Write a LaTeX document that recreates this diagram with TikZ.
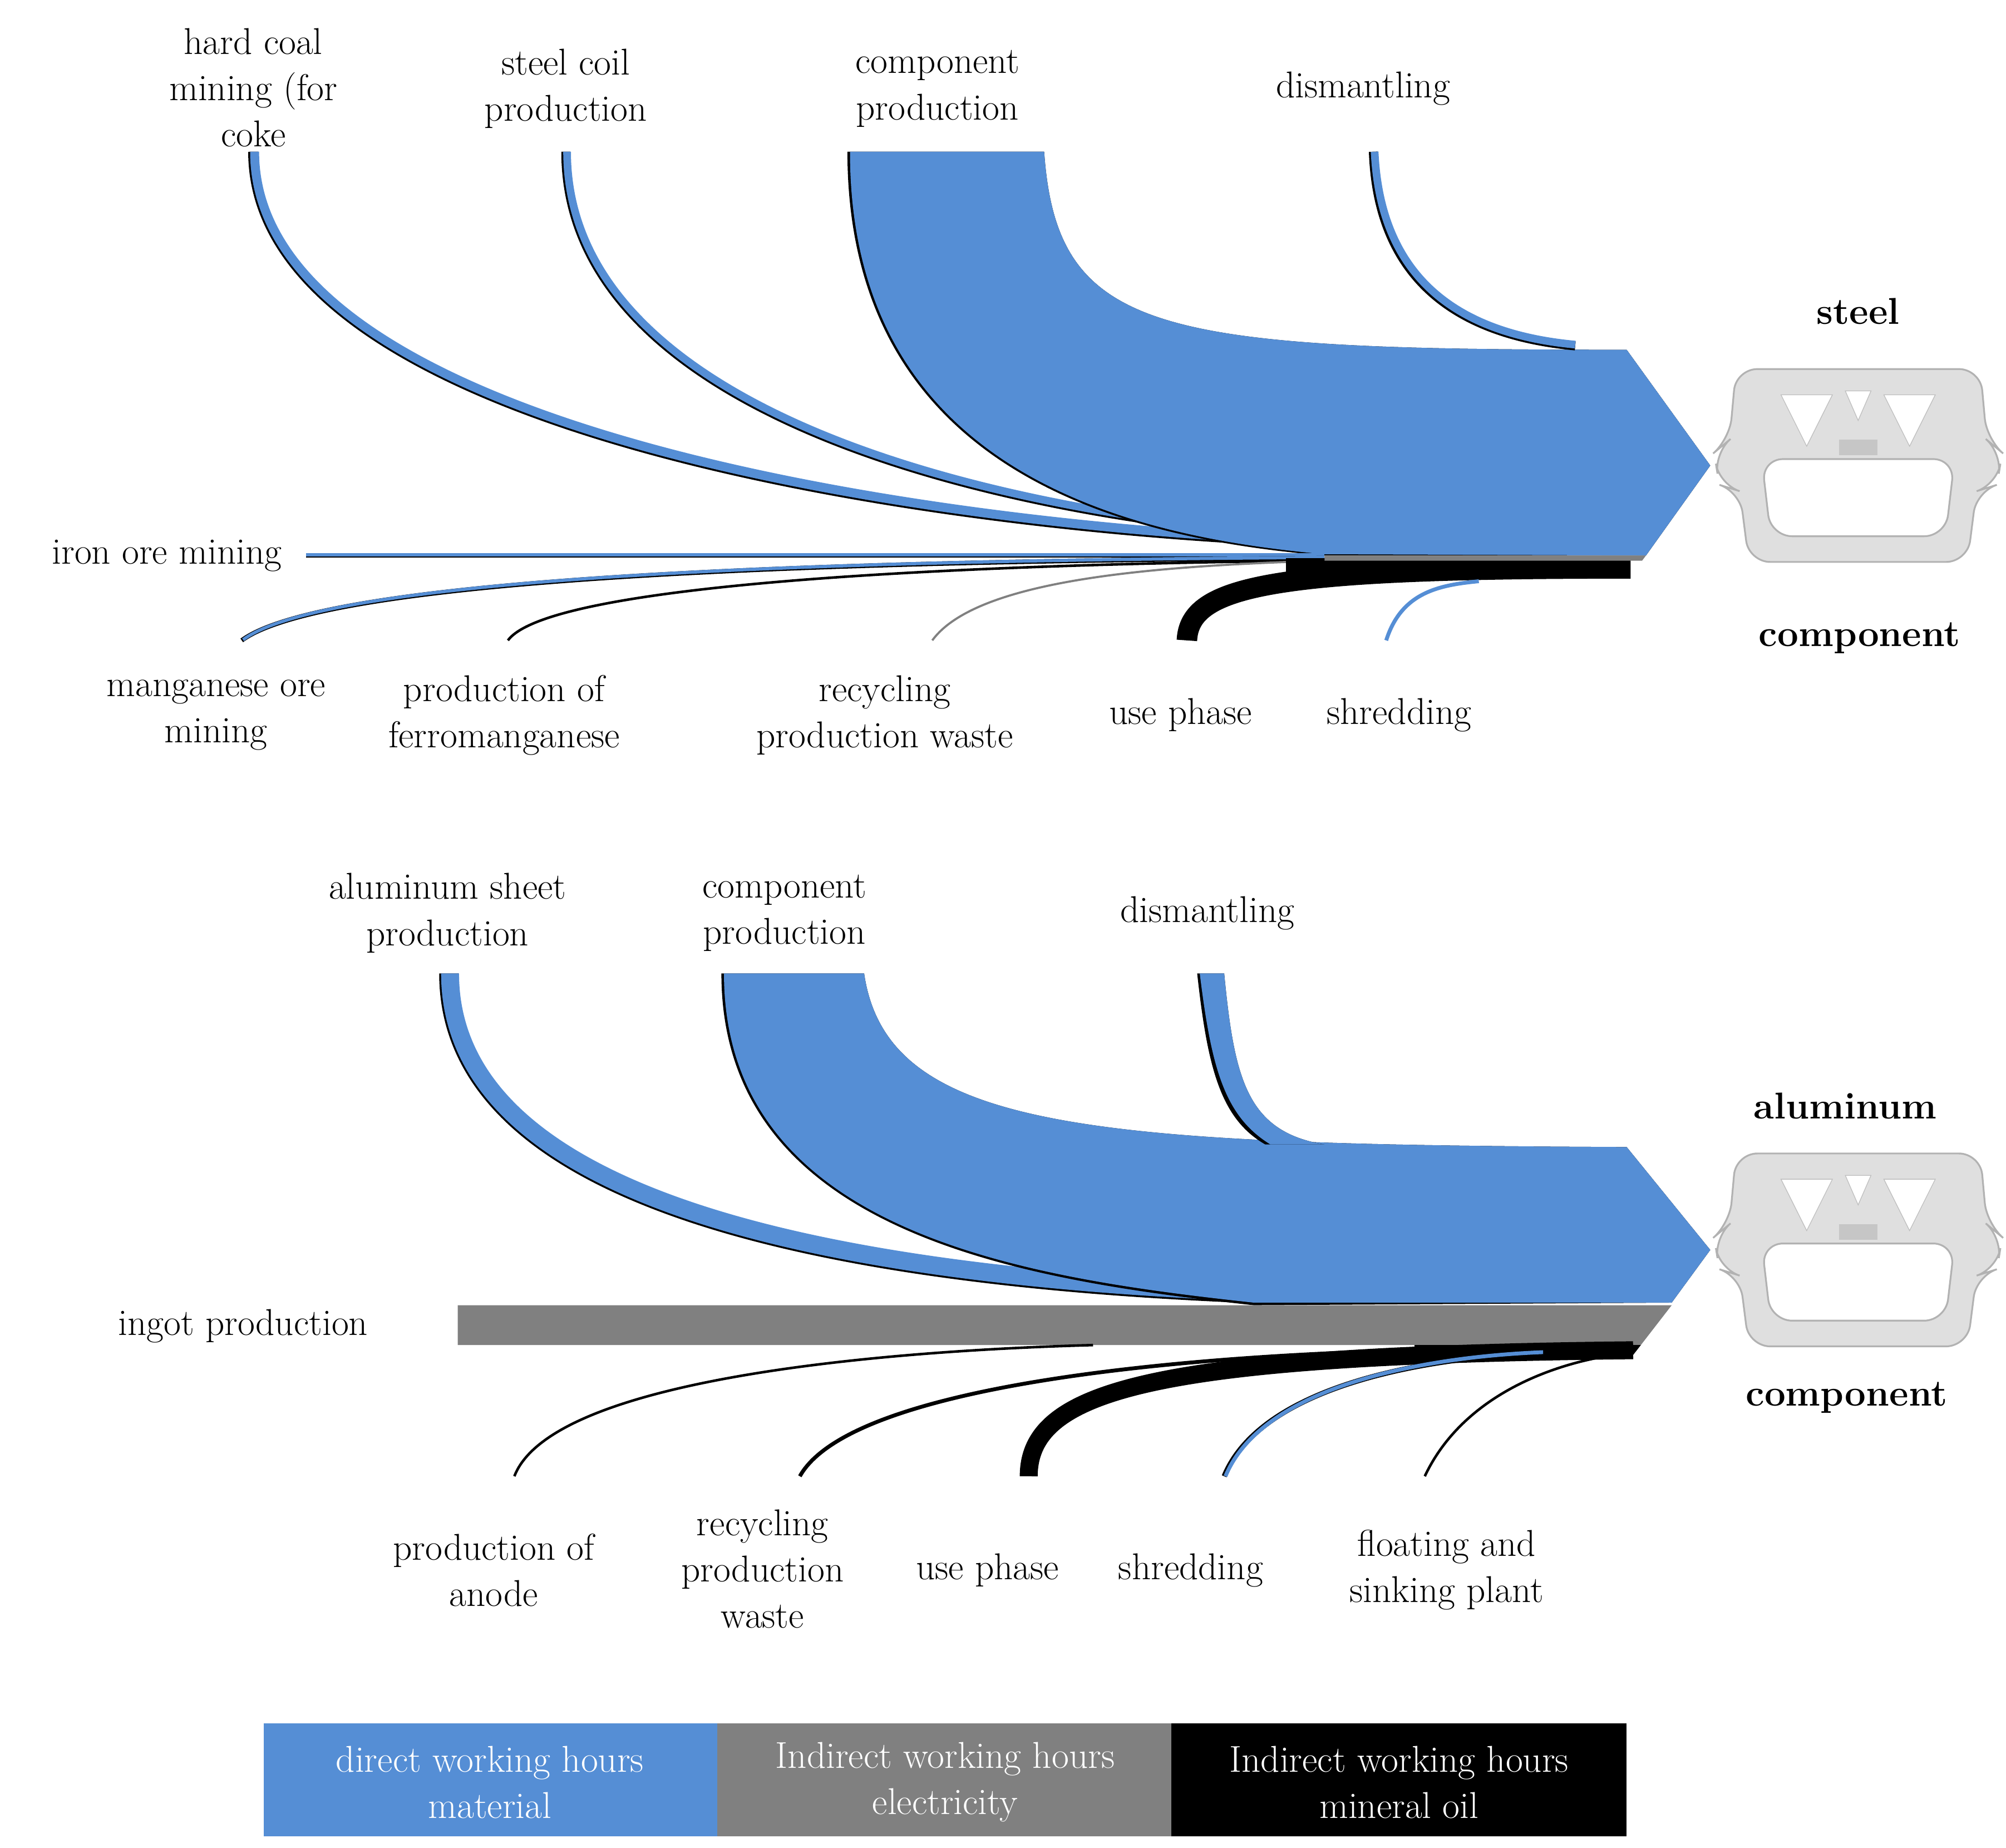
\documentclass[tikz,border=0pt]{standalone}
\begin{document}
\begin{tikzpicture}[x=0.0254cm,y=-0.0254cm,
  lbl/.style={align=center,font=\fontsize{21}{26}\selectfont},
  blbl/.style={align=center,font=\fontsize{21}{26}\selectfont\bfseries},
  leg/.style={align=center,text=white,font=\fontsize{21}{26}\selectfont,inner sep=0pt},
  fl/.style={draw=black,line width=#1*0.72pt},
  flb/.style={draw=myblue,line width=#1*0.72pt}]
\definecolor{myblue}{RGB}{85,142,213}
\definecolor{mygray}{RGB}{128,128,128}
\useasboundingbox (0,0) rectangle (1560,1437);
% ===== STEEL =====
\draw[fl=8] (197,118) .. controls (197,330) and (700,410) .. (1030,422);
\draw[flb=7] (198,118) .. controls (198,329) and (700,409) .. (1030,421);
\draw[fl=7] (440,118) .. controls (440,330) and (800,405) .. (1030,418);
\draw[flb=6] (441,118) .. controls (441,329) and (800,404) .. (1030,417);
\fill[black] (659,118) -- (812,118) .. controls (822,260) and (900,272) .. (1265,272) -- (1330,362) -- (1280,432) -- (1030,432) .. controls (900,421) and (659,380) .. (659,118) -- cycle;
\fill[myblue] (661,118) -- (812,118) .. controls (822,260) and (900,272) .. (1265,272) -- (1330,362) -- (1280,432) -- (1030,431) .. controls (900,419) and (661,379) .. (661,118) -- cycle;
\draw[fl=7] (1068,118) .. controls (1072,230) and (1150,262) .. (1225,269);
\draw[flb=6] (1069,118) .. controls (1074,229) and (1150,261) .. (1225,268);
\draw[fl=3.5] (238,432) -- (1030,432);
\draw[flb=2.5] (238,431.5) -- (1030,431.5);
\draw[fl=3.5] (188,498) .. controls (260,445) and (700,436) .. (1030,434);
\draw[flb=2.5] (189,497.5) .. controls (260,444.5) and (700,435.5) .. (1030,433.5);
\draw[fl=2] (395,498) .. controls (430,450) and (800,438) .. (1030,436);
\draw[draw=mygray,line width=1.2pt] (725,498) .. controls (760,450) and (900,440) .. (1030,436);
\draw[fl=16] (923,498) .. controls (925,455) and (990,442) .. (1268,442);
\fill[black] (1000,434) rectangle (1268,450);
\fill[mygray] (1030,432) -- (1280,432) -- (1277,436) -- (1030,436) -- cycle;
\draw[flb=3] (1078,498) .. controls (1090,460) and (1120,455) .. (1150,452);
% ===== ALUMINUM =====
\draw[fl=15] (349,757) .. controls (349,950) and (700,995) .. (975,1006);
\draw[flb=14] (350,757) .. controls (350,949) and (700,994) .. (975,1005);
\fill[black] (561,757) -- (672,757) .. controls (690,880) and (850,890) .. (1265,892) -- (1330,972) -- (1300,1013) -- (975,1015) .. controls (800,996) and (561,961) .. (561,757) -- cycle;
\fill[myblue] (563,757) -- (672,757) .. controls (690,880) and (850,890) .. (1265,892) -- (1330,972) -- (1300,1013) -- (975,1013) .. controls (800,994) and (563,960) .. (563,757) -- cycle;
\fill[black] (931,757) -- (952,757) .. controls (960,840) and (970,880) .. (1030,890) -- (984,890) .. controls (949,870) and (939,830) .. (931,757) -- cycle;
\fill[myblue] (933,757) -- (952,757) .. controls (960,840) and (970,880) .. (1030,890) -- (988,890) .. controls (952,868) and (942,830) .. (933,757) -- cycle;
\fill[mygray] (356,1015) -- (1300,1015) -- (1276,1046) -- (356,1046) -- cycle;
\draw[fl=2] (400,1148) .. controls (430,1070) and (700,1050) .. (850,1046);
\draw[fl=3] (622,1148) .. controls (660,1080) and (900,1055) .. (1100,1050);
\draw[fl=14] (800,1148) .. controls (800,1080) and (900,1054) .. (1270,1050);
\fill[black] (1100,1046) -- (1276,1046) -- (1269,1055) -- (1100,1055) -- cycle;
\draw[fl=4] (952,1148) .. controls (980,1080) and (1100,1056) .. (1200,1052);
\draw[flb=3] (953,1148) .. controls (981,1080) and (1100,1055.5) .. (1200,1051.5);
\draw[fl=2] (1108,1148) .. controls (1140,1080) and (1220,1056) .. (1270,1052);
% ===== component pictures =====
\foreach \cy/\nm in {362/a,972/b}{
 \begin{scope}[shift={(1445,\cy)}]
  \fill[gray!25,draw=gray!60,line width=1pt,even odd rule,rounded corners=12]
    (-95,-75) -- (95,-75) -- (100,-20) -- (112,-10) -- (108,15) -- (92,20) -- (85,75) -- (-85,75) -- (-92,20) -- (-108,15) -- (-112,-10) -- (-100,-20) -- cycle
    (-75,-5) -- (75,-5) -- (68,55) -- (-68,55) -- cycle;
  \fill[white,draw=gray!50] (-60,-55) -- (-20,-55) -- (-40,-15) -- cycle;
  \fill[white,draw=gray!50] (60,-55) -- (20,-55) -- (40,-15) -- cycle;
  \fill[white,draw=gray!50] (-10,-58) -- (10,-58) -- (0,-35) -- cycle;
  \fill[gray!45] (-15,-20) rectangle (15,-8);
 \end{scope}}
% ===== labels =====
\node[lbl] at (197,68) {hard coal\\mining (for\\coke};
\node[lbl] at (440,69) {steel coil\\production};
\node[lbl] at (729,69) {component\\production};
\node[lbl] at (1060,69) {dismantling};
\node[lbl,anchor=east] at (224,432) {iron ore mining};
\node[lbl] at (168,556) {manganese ore\\mining};
\node[lbl] at (392,556) {production of\\ferromanganese};
\node[lbl] at (688,556) {recycling\\production waste};
\node[lbl] at (918,556) {use phase};
\node[lbl] at (1088,556) {shredding};
\node[blbl] at (1445,242) {steel};
\node[blbl] at (1446,496) {component};
\node[lbl] at (348,710) {aluminum sheet\\production};
\node[lbl] at (610,710) {component\\production};
\node[lbl] at (939,710) {dismantling};
\node[lbl] at (189,1031) {ingot production};
\node[lbl] at (384,1221) {production of\\anode};
\node[lbl] at (593,1220) {recycling\\production\\waste};
\node[lbl] at (768,1221) {use phase};
\node[lbl] at (926,1221) {shredding};
\node[lbl] at (1125,1221) {floating and\\sinking plant};
\node[blbl] at (1435,860) {aluminum};
\node[blbl] at (1436,1087) {component};
% ===== legend =====
\fill[myblue] (205,1340) rectangle (558,1428);
\fill[mygray] (558,1340) rectangle (911,1428);
\fill[black] (911,1340) rectangle (1265,1428);
\node[leg] (l1) at (381,1386) {direct working hours\\material};
\node[leg] (l2) at (735,1386) {Indirect working hours\\electricity};
\node[leg] (l3) at (1088,1386) {Indirect working hours\\mineral oil};
\end{tikzpicture}
\end{document}
